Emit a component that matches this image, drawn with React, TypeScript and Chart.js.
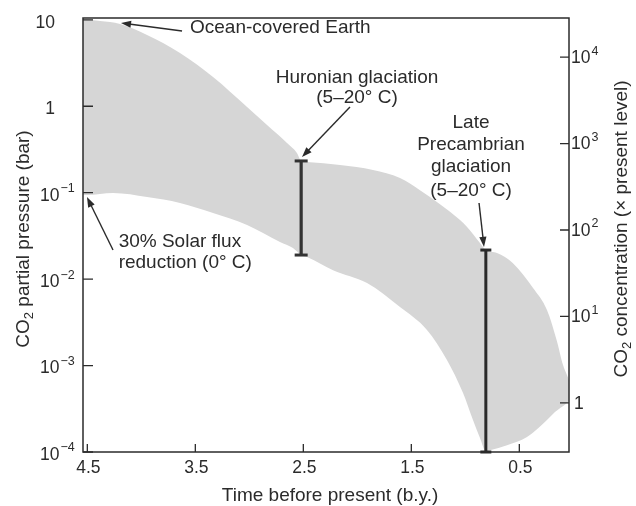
import React, { useEffect, useRef } from 'react';
import { Chart, registerables } from 'chart.js';

Chart.register(...registerables);

// ---- data ----
const PRESENT_LEVEL = 3.7e-4; // bar corresponding to 1x present CO2 level
const X_MIN = 0.04;
const X_MAX = 4.54;
const Y_MIN = 1e-4;
const Y_MAX = 10.5;

const X_TICKS = [4.5, 3.5, 2.5, 1.5, 0.5];
const X_TICK_LABELS = ['4.5', '3.5', '2.5', '1.5', '0.5'];
const Y_TICKS = [10, 1, 0.1, 0.01, 0.001, 0.0001];
const Y_TICK_BASES = ['10', '1', '10', '10', '10', '10'];
const Y_TICK_EXPS = ['', '', '\u22121', '\u22122', '\u22123', '\u22124'];
const Y2_TICKS = [1, 10, 100, 1000, 10000];
const Y2_TICK_BASES = ['1', '10', '10', '10', '10'];
const Y2_TICK_EXPS = ['', '1', '2', '3', '4'];

// upper edge of the shaded band (time b.y., CO2 bar)
const UPPER_X = [4.54, 4.383, 4.197, 3.947, 3.642, 3.336, 3.021, 2.836, 2.651, 2.559, 2.52, 2.466, 2.16, 1.855, 1.605, 1.42, 1.049, 0.984, 0.864, 0.809, 0.707, 0.559, 0.373, 0.244, 0.151, 0.096, 0.059, 0.04];
const UPPER_Y = [10.2, 9.69, 8.95, 6.67, 4.13, 2.18, 0.98, 0.607, 0.376, 0.288, 0.233, 0.226, 0.209, 0.183, 0.148, 0.107, 0.0483, 0.0401, 0.0262, 0.0217, 0.02, 0.0153, 0.0079, 0.0044, 0.0019, 0.00102, 0.00078, 0.00068];
// lower edge of the shaded band
const LOWER_X = [4.54, 4.503, 4.262, 3.947, 3.642, 3.336, 3.021, 2.716, 2.596, 2.52, 2.466, 2.225, 1.91, 1.605, 1.355, 1.17, 1.021, 0.929, 0.864, 0.81, 0.772, 0.614, 0.429, 0.244, 0.17, 0.059, 0.04];
const LOWER_Y = [0.094, 0.094, 0.099, 0.089, 0.076, 0.0582, 0.0423, 0.0269, 0.0229, 0.019, 0.018, 0.0127, 0.009, 0.00475, 0.00258, 0.00116, 0.00048, 0.000234, 0.000145, 0.000102, 0.000105, 0.00012, 0.000149, 0.000234, 0.00029, 0.00037, 0.00039];

const HURONIAN_X = 2.52;
const HURONIAN_Y = [0.233, 0.019];
const LATE_PC_X = 0.81;
const LATE_PC_Y = [0.0217, 0.0001];

// annotations: text lines anchored in data coordinates, arrows from -> to
const NOTE_TEXTS = [
  ['Ocean-covered Earth'],
  ['Huronian glaciation', '(5\u201320\u00b0 C)'],
  ['Late', 'Precambrian', 'glaciation', '(5\u201320\u00b0 C)'],
  ['30% Solar flux', 'reduction (0\u00b0 C)'],
];
const NOTE_X = [3.549, 2.003, 0.947, 4.21];
const NOTE_Y = [[7.05], [1.86, 1.09], [0.56, 0.312, 0.173, 0.0914], [0.0236, 0.01345]];
const NOTE_ALIGN = ['left', 'center', 'center', 'left'];
const ARROW_FROM = [[3.623, 7.43], [2.068, 0.98], [0.873, 0.076], [4.262, 0.0217]];
const ARROW_TO = [[4.188, 9.2], [2.512, 0.259], [0.827, 0.0236], [4.503, 0.089]];

// ---- styles ----
const INK = '#2b2b2b';
const BAND = '#d6d6d6';
const FONT = '"Liberation Sans", Arial, Helvetica, sans-serif';

function drawPow(ctx: CanvasRenderingContext2D, base: string, exp: string, x: number, y: number, align: 'left' | 'right') {
  ctx.font = `17.5px ${FONT}`;
  const bw = ctx.measureText(base).width;
  ctx.font = `12.5px ${FONT}`;
  const ew = exp ? ctx.measureText(exp).width + 1 : 0;
  const start = align === 'left' ? x : x - bw - ew;
  ctx.textAlign = 'left';
  ctx.textBaseline = 'middle';
  ctx.font = `17.5px ${FONT}`;
  ctx.fillText(base, start, y);
  if (exp) {
    ctx.font = `12.5px ${FONT}`;
    ctx.fillText(exp, start + bw + 1, y - 7);
  }
}

function drawSubTitle(ctx: CanvasRenderingContext2D, pre: string, sub: string, post: string, cx: number, cy: number) {
  ctx.save();
  ctx.translate(cx, cy);
  ctx.rotate(-Math.PI / 2);
  ctx.textBaseline = 'middle';
  ctx.textAlign = 'left';
  ctx.font = `19px ${FONT}`;
  const w1 = ctx.measureText(pre).width;
  const w3 = ctx.measureText(post).width;
  ctx.font = `13px ${FONT}`;
  const w2 = ctx.measureText(sub).width;
  const total = w1 + w2 + w3;
  let x = -total / 2;
  ctx.font = `19px ${FONT}`;
  ctx.fillText(pre, x, 0);
  x += w1;
  ctx.font = `13px ${FONT}`;
  ctx.fillText(sub, x, 5);
  x += w2;
  ctx.font = `19px ${FONT}`;
  ctx.fillText(post, x, 0);
  ctx.restore();
}

function arrow(ctx: CanvasRenderingContext2D, x1: number, y1: number, x2: number, y2: number) {
  const ang = Math.atan2(y2 - y1, x2 - x1);
  const len = 10;
  const hw = 3.6;
  ctx.beginPath();
  ctx.moveTo(x1, y1);
  ctx.lineTo(x2 - Math.cos(ang) * len * 0.8, y2 - Math.sin(ang) * len * 0.8);
  ctx.stroke();
  ctx.beginPath();
  ctx.moveTo(x2, y2);
  ctx.lineTo(x2 - Math.cos(ang) * len - Math.sin(ang) * hw, y2 - Math.sin(ang) * len + Math.cos(ang) * hw);
  ctx.lineTo(x2 - Math.cos(ang) * len + Math.sin(ang) * hw, y2 - Math.sin(ang) * len - Math.cos(ang) * hw);
  ctx.closePath();
  ctx.fill();
}

const decorPlugin = {
  id: 'decor',
  beforeDraw(chart: any) {
    const ctx = chart.ctx;
    ctx.save();
    ctx.fillStyle = '#ffffff';
    ctx.fillRect(0, 0, chart.width, chart.height);
    ctx.restore();
  },
  afterDraw(chart: any) {
    const ctx: CanvasRenderingContext2D = chart.ctx;
    const a = chart.chartArea;
    const xs = chart.scales.x;
    const ys = chart.scales.y;
    const y2s = chart.scales.y2;
    ctx.save();
    ctx.strokeStyle = INK;
    ctx.fillStyle = INK;
    ctx.lineWidth = 1.5;
    // frame
    ctx.strokeRect(a.left, a.top, a.right - a.left, a.bottom - a.top);
    // inward tick marks
    ctx.lineWidth = 1.3;
    ctx.beginPath();
    X_TICKS.forEach((v) => {
      const px = xs.getPixelForValue(v);
      ctx.moveTo(px, a.bottom);
      ctx.lineTo(px, a.bottom - 8);
    });
    Y_TICKS.forEach((v) => {
      const py = ys.getPixelForValue(v);
      ctx.moveTo(a.left, py);
      ctx.lineTo(a.left + 10, py);
    });
    Y2_TICKS.forEach((v) => {
      const py = y2s.getPixelForValue(v);
      ctx.moveTo(a.right, py);
      ctx.lineTo(a.right - 9, py);
    });
    ctx.stroke();

    // x tick labels
    ctx.font = `17.5px ${FONT}`;
    ctx.textAlign = 'center';
    ctx.textBaseline = 'middle';
    X_TICKS.forEach((v, i) => {
      ctx.fillText(X_TICK_LABELS[i], xs.getPixelForValue(v) + 1, a.bottom + 16);
    });
    // left tick labels
    Y_TICKS.forEach((v, i) => {
      const py = ys.getPixelForValue(v) + 3;
      if (Y_TICK_EXPS[i]) drawPow(ctx, Y_TICK_BASES[i], Y_TICK_EXPS[i], a.left - 43, py, 'left');
      else drawPow(ctx, Y_TICK_BASES[i], '', a.left - 28, py, 'right');
    });
    // right tick labels
    Y2_TICKS.forEach((v, i) => {
      const py = y2s.getPixelForValue(v) + 1;
      drawPow(ctx, Y2_TICK_BASES[i], Y2_TICK_EXPS[i], a.right + (Y2_TICK_EXPS[i] ? 2 : 5), py, 'left');
    });

    // axis titles
    ctx.font = `19px ${FONT}`;
    ctx.textAlign = 'center';
    ctx.textBaseline = 'middle';
    ctx.fillText('Time before present (b.y.)', (a.left + a.right) / 2 + 4, a.bottom + 44);
    drawSubTitle(ctx, 'CO', '2', ' partial pressure (bar)', 24, (a.top + a.bottom) / 2 + 4);
    drawSubTitle(ctx, 'CO', '2', ' concentration (\u00d7 present level)', a.right + 53, (a.top + a.bottom) / 2 - 6);

    // annotations
    ctx.font = `19px ${FONT}`;
    ctx.textBaseline = 'alphabetic';
    NOTE_TEXTS.forEach((lines, i) => {
      ctx.textAlign = NOTE_ALIGN[i] as CanvasTextAlign;
      const px = xs.getPixelForValue(NOTE_X[i]);
      lines.forEach((t, j) => {
        ctx.fillText(t, px, ys.getPixelForValue(NOTE_Y[i][j]));
      });
      ctx.lineWidth = 1.4;
      arrow(
        ctx,
        xs.getPixelForValue(ARROW_FROM[i][0]),
        ys.getPixelForValue(ARROW_FROM[i][1]),
        xs.getPixelForValue(ARROW_TO[i][0]),
        ys.getPixelForValue(ARROW_TO[i][1])
      );
    });
    ctx.restore();
  },
};

export default function App() {
  const ref = useRef<HTMLCanvasElement | null>(null);
  useEffect(() => {
    if (!ref.current) return;
    const pts = (xs: number[], ys: number[]) => xs.map((x, i) => ({ x, y: ys[i] }));
    const chart = new Chart(ref.current, {
      type: 'line',
      data: {
        datasets: [
          {
            label: 'lower',
            data: pts(LOWER_X, LOWER_Y),
            borderWidth: 0,
            borderColor: 'rgba(0,0,0,0)',
            pointRadius: 0,
            fill: false,
            cubicInterpolationMode: 'monotone',
            order: 3,
          },
          {
            label: 'upper',
            data: pts(UPPER_X, UPPER_Y),
            borderWidth: 0,
            borderColor: 'rgba(0,0,0,0)',
            backgroundColor: BAND,
            pointRadius: 0,
            fill: '-1',
            cubicInterpolationMode: 'monotone',
            order: 2,
          },
          {
            label: 'Huronian',
            data: HURONIAN_Y.map((y) => ({ x: HURONIAN_X, y })),
            borderColor: '#333333',
            borderWidth: 3.2,
            stepped: true,
            pointStyle: 'line',
            pointRadius: 6.5,
            pointBorderWidth: 3,
            pointBorderColor: '#333333',
            fill: false,
            clip: false,
            order: 0,
          },
          {
            label: 'Late Precambrian',
            data: LATE_PC_Y.map((y) => ({ x: LATE_PC_X, y })),
            borderColor: '#2a2a2a',
            borderWidth: 3,
            stepped: true,
            pointStyle: 'line',
            pointRadius: 5.5,
            pointBorderWidth: 3,
            pointBorderColor: '#2a2a2a',
            fill: false,
            clip: false,
            order: 0,
          },
        ],
      } as any,
      options: {
        responsive: false,
        animation: false,
        devicePixelRatio: 1,
        layout: { padding: { top: 18, left: 0, right: 0, bottom: 0 } },
        plugins: {
          legend: { display: false },
          tooltip: { enabled: false },
          filler: { drawTime: 'beforeDatasetsDraw' },
        },
        scales: {
          x: {
            type: 'linear',
            min: X_MIN,
            max: X_MAX,
            reverse: true,
            ticks: { display: false },
            grid: { display: false },
            border: { display: false },
            afterFit: (s: any) => { s.height = 54; },
          },
          y: {
            type: 'logarithmic',
            position: 'left',
            min: Y_MIN,
            max: Y_MAX,
            ticks: { display: false },
            grid: { display: false },
            border: { display: false },
            afterFit: (s: any) => { s.width = 83; },
          },
          y2: {
            type: 'logarithmic',
            position: 'right',
            min: Y_MIN / PRESENT_LEVEL,
            max: Y_MAX / PRESENT_LEVEL,
            ticks: { display: false },
            grid: { display: false },
            border: { display: false },
            afterFit: (s: any) => { s.width = 67; },
          },
        },
      } as any,
      plugins: [decorPlugin],
    });
    return () => chart.destroy();
  }, []);
  return (
    <div style={{ position: 'fixed', left: 0, top: 0, width: 636, height: 506, background: '#fff' }}>
      <canvas ref={ref} width={636} height={506} style={{ display: 'block', width: 636, height: 506 }} />
    </div>
  );
}
